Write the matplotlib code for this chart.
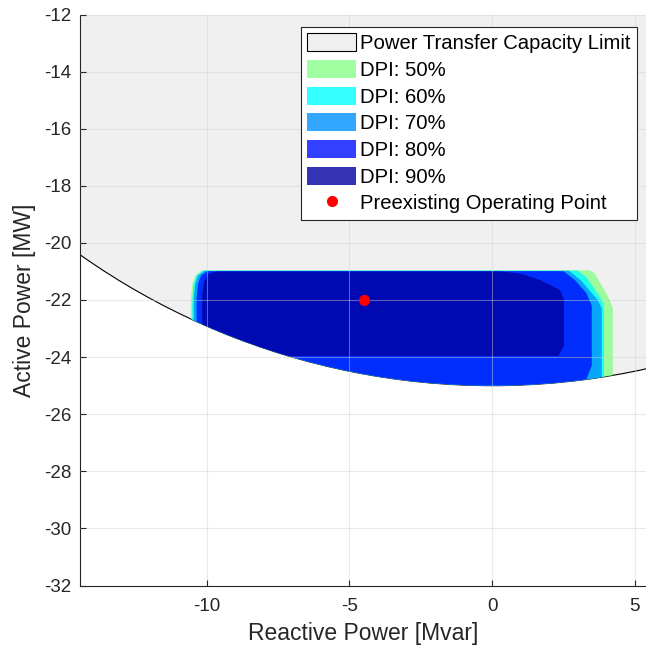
import numpy as np
import matplotlib.pyplot as plt
from matplotlib.patches import Circle, Polygon

plt.rcParams['font.family'] = ['Liberation Sans', 'DejaVu Sans']
plt.rcParams['axes.unicode_minus'] = False

# power transfer capacity (MVA), circle centred at the origin
s_max = 25.0

levels = ['DPI: 50%', 'DPI: 60%', 'DPI: 70%', 'DPI: 80%', 'DPI: 90%']
colors = ['#88ff88', '#00ffff', '#0090ff', '#0010ff', '#0000a0']

# outline of every DPI region as (Q, P); the bottom gets cut by the circle
dpi50 = [(-10.55, -27.0), (-10.55, -22.0), (-10.5, -21.45), (-10.4, -21.15),
         (-10.17, -20.96), (3.43, -20.96), (3.6, -21.08), (4.1, -21.95),
         (4.23, -22.3), (4.23, -27.0)]
dpi60 = [(-10.5, -27.0), (-10.5, -22.0), (-10.45, -21.45), (-10.35, -21.15),
         (-10.12, -20.97), (3.0, -20.97), (3.3, -21.2), (3.85, -22.0),
         (3.92, -22.3), (3.92, -27.0)]
dpi70 = [(-10.45, -27.0), (-10.45, -22.0), (-10.4, -21.45), (-10.3, -21.15),
         (-10.07, -20.98), (2.7, -20.98), (3.1, -21.3), (3.7, -22.0),
         (3.84, -22.3), (3.84, -27.0)]
dpi80 = [(-10.35, -27.0), (-10.35, -22.0), (-10.3, -21.45), (-10.2, -21.15),
         (-9.98, -20.99), (2.5, -20.99), (2.9, -21.3), (3.3, -21.75),
         (3.49, -22.2), (3.49, -24.3), (3.25, -24.9), (3.25, -27.0)]
dpi90 = [(-10.15, -24.0), (-10.15, -21.8), (-10.08, -21.35), (-9.92, -21.08),
         (-9.65, -21.0), (0.28, -21.0), (0.98, -21.07), (1.68, -21.3),
         (2.38, -21.65), (2.52, -22.0), (2.52, -23.6), (2.32, -23.96),
         (-10.15, -23.96)]
regions = [dpi50, dpi60, dpi70, dpi80, dpi90]

# preexisting operating point
op_q = -4.5
op_p = -22.0

fig = plt.figure(figsize=(6.46, 6.53), dpi=100)
ax = fig.add_axes([80 / 646, 67.5 / 653, 566 / 646, 571 / 653])

limit = Circle((0, 0), s_max, facecolor='#f0f0f0', edgecolor='black',
               linewidth=0.8, label='Power Transfer Capacity Limit', zorder=1)
ax.add_patch(limit)

handles = [limit]
for pts, c, name in zip(regions, colors, levels):
    poly = Polygon(pts, closed=True, facecolor=c, edgecolor='none',
                   alpha=0.8, label=name, zorder=1.2)
    ax.add_patch(poly)
    poly.set_clip_path(limit)
    handles.append(poly)

pt, = ax.plot([op_q], [op_p], 'o', color='red', markersize=7,
              label='Preexisting Operating Point', zorder=3)
handles.append(pt)

ax.set_xlim(-14.43, 5.39)
ax.set_ylim(-32, -12)
ax.set_xticks([-10, -5, 0, 5])
ax.set_yticks(np.arange(-32, -11, 2))

ax.set_axisbelow(False)
ax.grid(True, color='#d0d0d0', alpha=0.45, linewidth=0.8)

for s in ['top', 'right']:
    ax.spines[s].set_visible(False)
for s in ['left', 'bottom']:
    ax.spines[s].set_color('#262626')
    ax.spines[s].set_linewidth(0.8)
ax.tick_params(direction='in', length=4, width=0.8, color='#262626',
               labelsize=13.5, labelcolor='#262626')
ax.tick_params(axis='x', pad=9)
ax.tick_params(axis='y', pad=6)

ax.set_xlabel('Reactive Power [Mvar]', fontsize=16.5, color='#262626',
              labelpad=5)
ax.set_ylabel('Active Power [MW]', fontsize=16.5, color='#262626',
              labelpad=6)

leg = ax.legend(handles=handles, loc='upper right', fontsize=14.6,
                bbox_to_anchor=(0.984, 0.978), fancybox=False,
                edgecolor='#262626', framealpha=1, handlelength=2.4,
                handleheight=1.0, handletextpad=0.22, labelspacing=0.33,
                borderpad=0.3, borderaxespad=0)
leg.get_frame().set_linewidth(0.8)
for t in leg.get_texts():
    t.set_color('black')

fig.savefig('out.png', dpi=100)
